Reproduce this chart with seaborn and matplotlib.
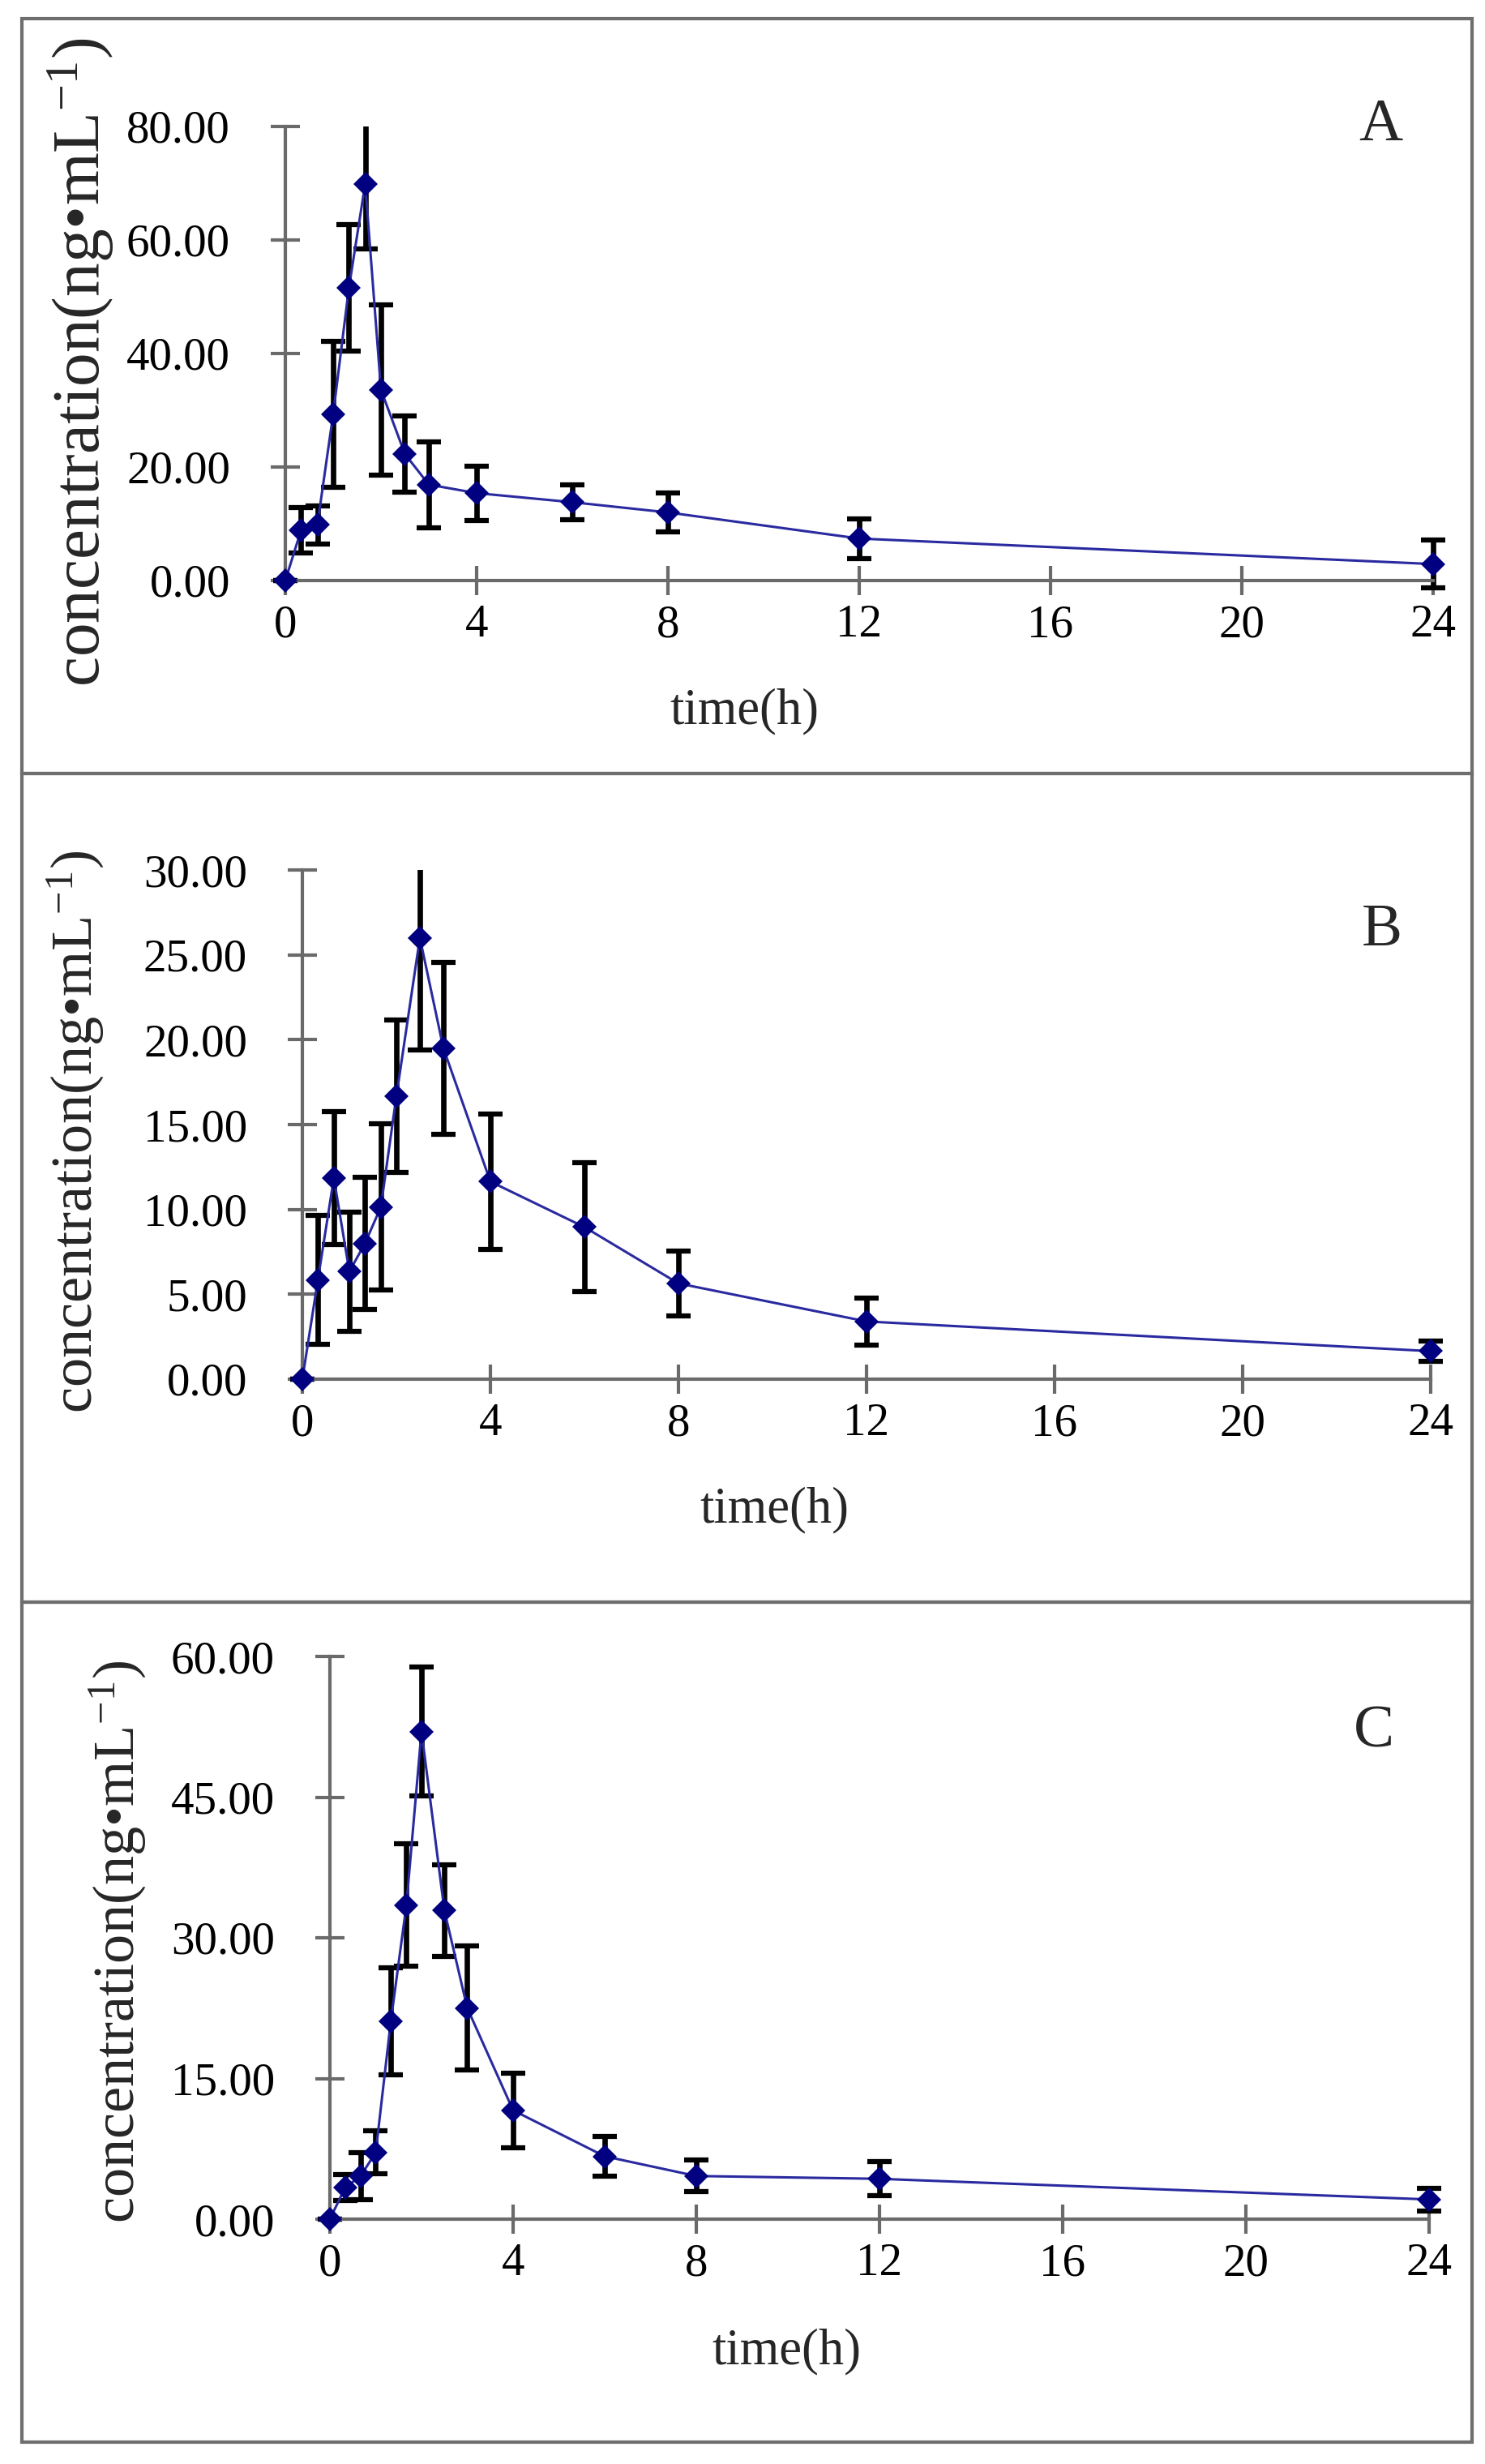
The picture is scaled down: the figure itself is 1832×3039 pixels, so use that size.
import matplotlib
matplotlib.use("Agg")
import matplotlib.pyplot as plt
import seaborn as sns
import pandas as pd
from matplotlib.patches import Rectangle

# ---------------- data ----------------
time_h = [0, 0.33, 0.67, 1, 1.33, 1.67, 2, 2.5, 3, 4, 6, 8, 12, 24]

conc_A = [0, 8.9, 9.8, 29.3, 51.6, 69.9, 33.6, 22.3, 16.9, 15.4, 13.8, 12.0, 7.4, 2.9]
sd_A = [0, 4.0, 3.3, 12.8, 11.1, 11.5, 15.0, 6.7, 7.6, 4.8, 3.1, 3.4, 3.5, 4.2]

conc_B = [0, 5.85, 11.85, 6.34, 7.99, 10.14, 16.67, 26.0, 19.5, 11.64, 8.96, 5.64, 3.4, 1.65]
sd_B = [0, 3.8, 3.9, 3.5, 3.9, 4.9, 4.5, 6.6, 5.07, 4.0, 3.8, 1.9, 1.4, 0.6]

conc_C = [0, 3.35, 4.6, 7.1, 21.1, 33.5, 52.0, 32.9, 22.5, 11.6, 6.7, 4.6, 4.3, 2.1]
sd_C = [0, 1.4, 2.5, 2.3, 5.7, 6.5, 6.9, 4.9, 6.6, 4.0, 2.15, 1.7, 1.8, 1.2]

x_ticks = [0, 4, 8, 12, 16, 20, 24]
y_ticks_A = [0, 20, 40, 60, 80]
y_ticks_B = [0, 5, 10, 15, 20, 25, 30]
y_ticks_C = [0, 15, 30, 45, 60]
panel_letters = ["A", "B", "C"]
x_label = "time(h)"
y_label = "concentration(ng\u2022mL$^{\\mathregular{-1}}$)"

# ---------------- style ----------------
sns.set_style("white")
plt.rcParams["font.family"] = ["Liberation Serif", "DejaVu Serif"]
plt.rcParams["mathtext.fontset"] = "custom"
plt.rcParams["mathtext.rm"] = "Liberation Serif"
plt.rcParams["mathtext.it"] = "Liberation Serif:italic"
plt.rcParams["mathtext.bf"] = "Liberation Serif:bold"

W, H = 1833, 3039
fig = plt.figure(figsize=(W / 100, H / 100), dpi=100)

AXIS_GREY = "#6a6a6a"
FRAME_GREY = "#6e6e6e"
NAVY = "#000080"
LINE_BLUE = "#2a2aa0"

# pixel layout: axes (x0, ytop, x1, ybottom), ylabel (x, ycenter, size),
# xlabel (x, y), letter (x, y), frame (y0, y1)
layout = [
    dict(conc=conc_A, sd=sd_A, yt=y_ticks_A, ax=(352, 156, 1768, 716),
         yl=(100, 447, 60), xl=(918, 877), let=(1703, 155), fr=(23, 954)),
    dict(conc=conc_B, sd=sd_B, yt=y_ticks_B, ax=(373, 1073, 1765, 1701),
         yl=(93, 1396, 52), xl=(955, 1862), let=(1705, 1148), fr=(954, 1976)),
    dict(conc=conc_C, sd=sd_C, yt=y_ticks_C, ax=(407, 2043, 1763, 2737),
         yl=(145, 2395, 52), xl=(970, 2900), let=(1695, 2137), fr=(1976, 3012)),
]

for letter, p in zip(panel_letters, layout):
    x0, yt, x1, yb = p["ax"]
    ax = fig.add_axes([x0 / W, 1 - yb / H, (x1 - x0) / W, (yb - yt) / H])
    df = pd.DataFrame({"time": time_h, "conc": p["conc"], "sd": p["sd"]})

    eb = ax.errorbar(df["time"], df["conc"], yerr=df["sd"], fmt="none",
                     ecolor="black", elinewidth=4.8, capsize=11, capthick=4.5,
                     zorder=2)
    clip = Rectangle((-0.05, -0.2), 1.1, 1.2, transform=ax.transAxes)
    for art in list(eb.lines[1]) + list(eb.lines[2]):
        art.set_clip_path(clip)

    sns.lineplot(data=df, x="time", y="conc", ax=ax, color=LINE_BLUE,
                 linewidth=2.2, marker="D", markersize=15, markeredgewidth=0,
                 markerfacecolor=NAVY, zorder=3, clip_on=False,
                 errorbar=None, sort=False)

    ax.set_xlim(0, 24)
    ax.set_ylim(p["yt"][0], p["yt"][-1])
    ax.set_xticks(x_ticks)
    ax.set_xticklabels([str(t) for t in x_ticks])
    ax.set_yticks(p["yt"])
    ax.set_yticklabels(["%.2f" % v for v in p["yt"]])
    ax.set_xlabel("")
    ax.set_ylabel("")

    for s in ["top", "right"]:
        ax.spines[s].set_visible(False)
    for s in ["left", "bottom"]:
        ax.spines[s].set_color(AXIS_GREY)
        ax.spines[s].set_linewidth(3)
    ax.tick_params(axis="both", bottom=True, left=True, direction="inout",
                   length=26, width=3, color=AXIS_GREY, labelsize=41,
                   labelcolor="black")
    ax.tick_params(axis="y", pad=36)
    ax.tick_params(axis="x", pad=8)
    ax.patch.set_alpha(0)

    yx, yc, ys = p["yl"]
    fig.text(yx / W, 1 - yc / H, y_label, rotation=90, ha="center",
             va="center", fontsize=ys)
    fig.text(p["xl"][0] / W, 1 - p["xl"][1] / H, x_label, ha="center",
             va="center", fontsize=45)
    fig.text(p["let"][0] / W, 1 - p["let"][1] / H, letter, ha="center",
             va="center", fontsize=54)

    f0, f1 = p["fr"]
    fig.add_artist(Rectangle((27 / W, 1 - f1 / H), (1816 - 27) / W,
                             (f1 - f0) / H, fill=False, edgecolor=FRAME_GREY,
                             linewidth=3, transform=fig.transFigure))

fig.savefig("out.png", dpi=100, facecolor="white")
